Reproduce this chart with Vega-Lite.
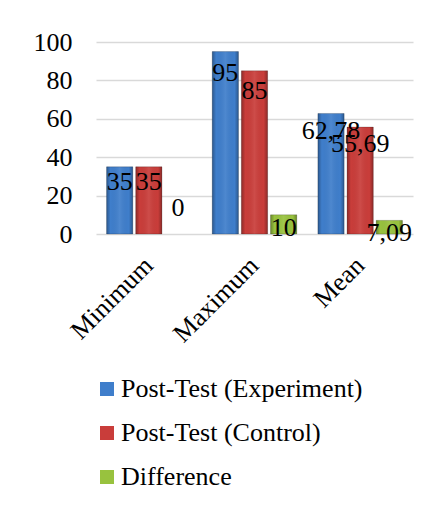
{
  "$schema": "https://vega.github.io/schema/vega-lite/v6.json",
  "width": 317,
  "height": 192,
  "autosize": {"type": "none"},
  "padding": {"left": 96, "top": 42, "right": 18, "bottom": 273},
  "background": "white",
  "config": {
    "font": "Liberation Serif",
    "view": {"stroke": null},
    "axis": {"labelFont": "Liberation Serif"},
    "legend": {"labelFont": "Liberation Serif"},
    "text": {"font": "Liberation Serif"},
    "locale": {"number": {"decimal": ",", "thousands": ".", "grouping": [3], "currency": ["", " €"]}}
  },
  "data": {
    "values": [
      {"stat": "Minimum", "series": "Post-Test (Experiment)", "value": 35},
      {"stat": "Minimum", "series": "Post-Test (Control)", "value": 35},
      {"stat": "Minimum", "series": "Difference", "value": 0},
      {"stat": "Maximum", "series": "Post-Test (Experiment)", "value": 95},
      {"stat": "Maximum", "series": "Post-Test (Control)", "value": 85},
      {"stat": "Maximum", "series": "Difference", "value": 10},
      {"stat": "Mean", "series": "Post-Test (Experiment)", "value": 62.78},
      {"stat": "Mean", "series": "Post-Test (Control)", "value": 55.69},
      {"stat": "Mean", "series": "Difference", "value": 7.09}
    ]
  },
  "encoding": {
    "x": {
      "field": "stat", "type": "nominal",
      "sort": ["Minimum", "Maximum", "Mean"],
      "scale": {"paddingInner": 0.2, "paddingOuter": 0.1},
      "axis": {"title": null, "labelAngle": -45, "labelAlign": "right", "labelBaseline": "middle", "labelFont": "Liberation Serif", "labelFontSize": 26, "labelColor": "black", "labelPadding": 27, "domain": false, "ticks": false}
    },
    "xOffset": {
      "field": "series", "type": "nominal",
      "sort": ["Post-Test (Experiment)", "Post-Test (Control)", "Difference"],
      "scale": {"paddingInner": 0.1, "paddingOuter": 0}
    }
  },
  "resolve": {"scale": {"y": "independent"}},
  "layer": [
    {
      "mark": {"type": "bar", "stroke": "rgba(0,0,0,0.25)", "strokeWidth": 0.8},
      "encoding": {
        "y": {
          "field": "value", "type": "quantitative",
          "scale": {"domain": [0, 100], "nice": false},
          "axis": {"title": null, "values": [0, 20, 40, 60, 80, 100], "labelFont": "Liberation Serif", "labelFontSize": 26, "labelColor": "black", "labelPadding": 24, "domain": false, "ticks": false, "gridColor": "#d9d9d9", "gridWidth": 1.5}
        },
        "color": {
          "field": "series", "type": "nominal",
          "sort": ["Post-Test (Experiment)", "Post-Test (Control)", "Difference"],
          "scale": {"domain": ["Post-Test (Experiment)", "Post-Test (Control)", "Difference"], "range": ["#3f7ecb", "#c93d3a", "#98c23e"]},
          "legend": {
            "title": null, "orient": "none", "legendX": -2, "legendY": 334,
            "direction": "vertical", "symbolType": "square", "symbolSize": 196,
            "symbolStrokeWidth": 0, "labelFont": "Liberation Serif", "labelFontSize": 26, "labelColor": "black",
            "labelOffset": 1, "rowPadding": 18, "labelLimit": 400
          }
        },
        "strokeOpacity": {"condition": {"test": "datum.value == 0", "value": 0}, "value": 1},
        "fillOpacity": {"condition": {"test": "datum.value == 0", "value": 0}, "value": 1}
      }
    },
    {
      "transform": [{"filter": "datum.value != 0"}],
      "mark": {
        "type": "bar",
        "color": {"gradient": "linear", "x1": 0, "x2": 1, "y1": 0, "y2": 0,
          "stops": [
            {"offset": 0, "color": "rgba(0,0,0,0.3)"},
            {"offset": 0.15, "color": "rgba(0,0,0,0)"},
            {"offset": 0.5, "color": "rgba(255,255,255,0.08)"},
            {"offset": 0.85, "color": "rgba(0,0,0,0)"},
            {"offset": 1, "color": "rgba(0,0,0,0.3)"}
          ]}
      },
      "encoding": {
        "y": {"field": "value", "type": "quantitative", "scale": {"domain": [0, 100], "nice": false}, "axis": null}
      }
    },
    {
      "transform": [{"filter": "datum.value != 0"}],
      "mark": {"type": "text", "baseline": "top", "dy": -1, "font": "Liberation Serif", "fontSize": 26, "color": "black"},
      "encoding": {
        "y": {"field": "value", "type": "quantitative", "scale": {"domain": [0, 105.2], "nice": false}, "axis": null},
        "text": {"field": "value", "type": "quantitative", "format": "~g"}
      }
    },
    {
      "transform": [{"filter": "datum.value == 0"}],
      "mark": {"type": "text", "baseline": "bottom", "dy": -13, "font": "Liberation Serif", "fontSize": 26, "color": "black"},
      "encoding": {
        "y": {"field": "value", "type": "quantitative", "scale": {"domain": [0, 100], "nice": false}, "axis": null},
        "text": {"field": "value", "type": "quantitative", "format": "~g"}
      }
    }
  ]
}
